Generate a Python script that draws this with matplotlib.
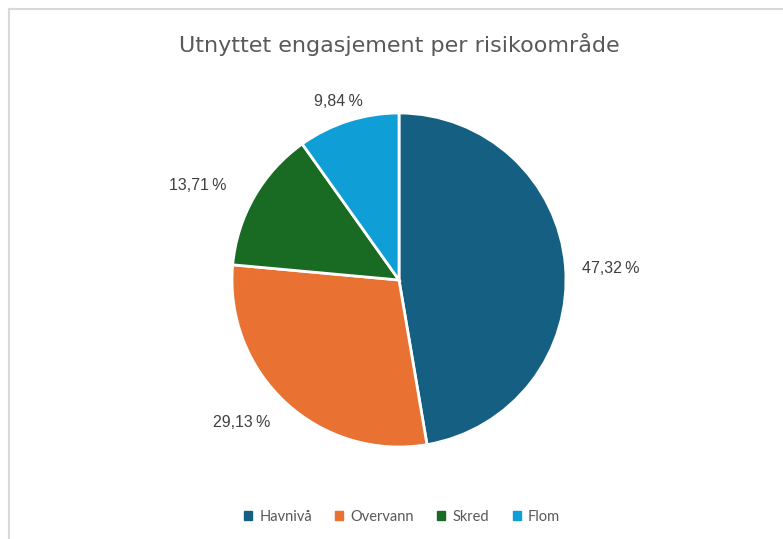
import numpy as np
import matplotlib.pyplot as plt
from matplotlib.lines import Line2D

# data
categories = ['Havnivå', 'Overvann', 'Skred', 'Flom']
shares = [47.32, 29.13, 13.71, 9.84]
colors = ['#156082', '#E97132', '#196B24', '#0F9ED5']
# label placement (radius, angle nudge in degrees) - mimics Excel "best fit"
label_radius = [1.27, 1.27, 1.33, 1.13]
label_nudge = [-1.6, -4.9, 4.8, 1.1]

W, H = 783, 539
fig = plt.figure(figsize=(W / 100, H / 100), dpi=100)
fig.patch.set_facecolor('white')

# light frame on the top and left edge (chart border cropped on the other sides)
fig.add_artist(Line2D([8.5 / W, 1], [1 - 8.5 / H] * 2, color='#d9d9d9', lw=1.5))
fig.add_artist(Line2D([8.5 / W] * 2, [0, 1 - 8.5 / H], color='#d9d9d9', lw=1.5))

cx, cy, r = 399, 280, 167
ax = fig.add_axes([(cx - r) / W, 1 - (cy + r) / H, 2 * r / W, 2 * r / H])
wedges, _ = ax.pie(shares, colors=colors, startangle=90, counterclock=False,
                   radius=1, wedgeprops=dict(edgecolor='white', linewidth=2))
ax.set_xlim(-1, 1)
ax.set_ylim(-1, 1)
ax.set_aspect('equal')
ax.axis('off')

for w, v, rr, dn in zip(wedges, shares, label_radius, label_nudge):
    mid = np.deg2rad((w.theta1 + w.theta2) / 2 + dn)
    txt = f'{v:.2f}'.replace('.', ',') + '\u2009%'
    ax.text(rr * np.cos(mid), rr * np.sin(mid), txt, ha='center', va='center',
            fontsize=11.5, color='#404040', family=['Liberation Sans', 'DejaVu Sans'],
            clip_on=False)

fig.text(cx / W, 1 - 45 / H, 'Utnyttet engasjement per risikoområde',
         ha='center', va='center', fontsize=16, color='#595959',
         family='DejaVu Sans')

handles = [plt.Rectangle((0, 0), 1, 1, color=c) for c in colors]
fig.legend(handles, categories, loc='center', bbox_to_anchor=(402 / W, 1 - 517 / H),
           ncol=4, frameon=False, handlelength=0.55, handleheight=0.55,
           handletextpad=0.5, columnspacing=1.6,
           prop=dict(family='Lato', size=10.5), labelcolor='#595959')

fig.savefig('out.png', dpi=100, facecolor='white')
